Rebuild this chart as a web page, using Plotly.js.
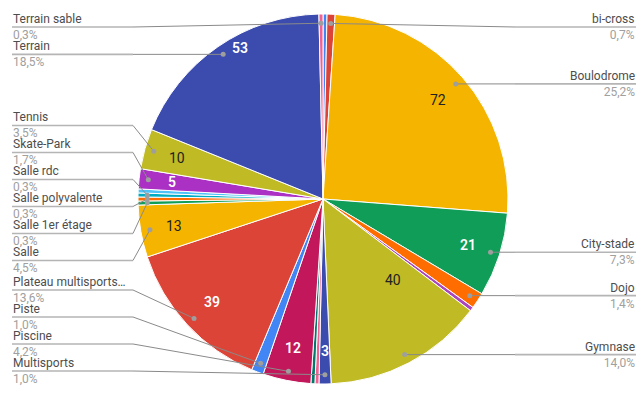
<!DOCTYPE html>
<html><head><meta charset="utf-8">
<script src="https://cdn.plot.ly/plotly-3.0.1.min.js"></script>
<style>body{margin:0;background:#fff}#chart{width:641px;height:399px}</style>
</head><body><div id="chart"></div>
<script>
// ---- data (clockwise from 12 o'clock) ----
const labels = ['(sans libellé 1)', 'bi-cross', 'Boulodrome', 'City-stade', 'Dojo', '(sans libellé 2)',
  'Gymnase', 'Multisports', '(sans libellé 3)', '(sans libellé 4)', 'Piscine', 'Piste',
  'Plateau multisports…', 'Salle', 'Salle 1er étage', 'Salle polyvalente', 'Salle rdc', '(sans libellé 5)',
  'Skate-Park', 'Tennis', 'Terrain', 'Terrain sable'];
const values = [1, 2, 72, 21, 4, 1, 40, 3, 1, 1, 12, 3, 39, 13, 1, 1, 1, 1, 5, 10, 53, 1];
const inLegend = [false, true, true, true, true, false, true, true, false, false, true, true,
  true, true, true, true, true, false, true, true, true, true];
const showValue = [false, false, true, true, false, false, true, true, false, false, true, false,
  true, true, false, false, false, false, true, true, true, false];
const colors = ['#4285F4', '#DB4437', '#F4B400', '#0F9D58', '#FF6D00', '#AB47BC',
  '#C0BB25', '#3B4BAE', '#F06292', '#00796B', '#C2185B', '#4285F4',
  '#DB4437', '#F4B400', '#0F9D58', '#FF6D00', '#00ACC1', '#4FC3F7',
  '#AB30C4', '#C0BB25', '#3B4BAE', '#F06292'];

// ---- layout tweaks for value-label placement (pixels, as the reference places them) ----
const valueLabelShift = { 'Terrain': [3, 26], 'Gymnase': [0, 53] };

// ---- geometry ----
const W = 641, H = 399;
const cx = 323, cy = 199, R = 185;
const px = x => x / W, py = y => 1 - y / H;
const total = values.reduce((a, b) => a + b, 0);

const fmtPct = v => (Math.round(v / total * 1000) / 10).toFixed(1).replace('.', ',') + '%';
function lum(hex) {
  const r = parseInt(hex.substr(1, 2), 16), g = parseInt(hex.substr(3, 2), 16), b = parseInt(hex.substr(5, 2), 16);
  return 0.299 * r + 0.587 * g + 0.114 * b;
}

const annotations = [], shapes = [];
let cum = 0;
const leftItems = [], rightItems = [];
values.forEach((v, i) => {
  const mid = (cum + v / 2) / total * 2 * Math.PI;
  cum += v;
  const s = Math.sin(mid), c = Math.cos(mid);
  if (showValue[i]) {
    const tr = 0.82 * R;
    const sh = valueLabelShift[labels[i]] || [0, 0];
    const dark = lum(colors[i]) > 150;
    annotations.push({
      x: px(cx + tr * s), y: py(cy - tr * c), xref: 'paper', yref: 'paper',
      xshift: sh[0], yshift: sh[1],
      text: String(v), showarrow: false, xanchor: 'center', yanchor: 'middle',
      font: { family: 'Roboto, Arial, sans-serif', size: 14, color: dark ? '#222222' : '#ffffff', weight: dark ? 400 : 600 }
    });
  }
  if (inLegend[i]) {
    const dr = 0.95 * R;
    const item = { i, dx: cx + dr * s, dy: cy - dr * c };
    item.y = item.dy;
    (s > 0.02 ? rightItems : leftItems).push(item);
  }
});

function resolve(items, minY, maxY, gap) {
  items.sort((a, b) => a.dy - b.dy);
  items.forEach(it => { it.y = Math.min(maxY, Math.max(minY, it.dy)); });
  for (let k = 0; k < 2000; k++) {
    for (let j = 1; j < items.length; j++) {
      const d = items[j].y - items[j - 1].y;
      if (d < gap) {
        const sh = (gap - d) / 2;
        items[j - 1].y -= sh; items[j].y += sh;
      }
    }
    items.forEach(it => { it.y = Math.min(maxY, Math.max(minY, it.y)); });
  }
}
resolve(leftItems, 27, H - 28, 27);
resolve(rightItems, 27, H - 28, 27);

function addLabel(it, side) {
  const i = it.i;
  const xText = side === 'left' ? 12 : 636;
  const xElbow = side === 'left' ? 133 : 515;
  shapes.push({ type: 'line', xref: 'paper', yref: 'paper', layer: 'above',
    x0: px(xText), y0: py(it.y), x1: px(xElbow), y1: py(it.y), line: { color: '#b5b5b5', width: 1.6 } });
  shapes.push({ type: 'line', xref: 'paper', yref: 'paper', layer: 'above',
    x0: px(xElbow), y0: py(it.y), x1: px(it.dx), y1: py(it.dy), line: { color: '#8a8a8a', width: 1 } });
  const rr = 2.5;
  shapes.push({ type: 'circle', xref: 'paper', yref: 'paper', layer: 'above',
    x0: px(it.dx - rr), x1: px(it.dx + rr), y0: py(it.dy + rr), y1: py(it.dy - rr),
    fillcolor: '#9e9e9e', line: { width: 0 } });
  const anchor = side === 'left' ? 'left' : 'right';
  annotations.push({ x: px(xText), y: py(it.y), xref: 'paper', yref: 'paper', showarrow: false,
    xanchor: anchor, yanchor: 'middle', align: anchor, borderpad: 0,
    text: labels[i] + '<br><span style="color:#a0a0a0">' + fmtPct(values[i]) + '</span>',
    font: { family: 'Roboto, Arial, sans-serif', size: 12, color: '#4d4d4d' } });
}
leftItems.forEach(it => addLabel(it, 'left'));
rightItems.forEach(it => addLabel(it, 'right'));

const trace = {
  type: 'pie', labels, values, sort: false, direction: 'clockwise', rotation: 0,
  marker: { colors, line: { color: '#ffffff', width: 1 } },
  textinfo: 'none', hoverinfo: 'label+value+percent',
  domain: { x: [px(cx - R), px(cx + R)], y: [py(cy + R), py(cy - R)] }
};

Plotly.newPlot('chart', [trace], {
  width: W, height: H, margin: { l: 0, r: 0, t: 0, b: 0 },
  showlegend: false, paper_bgcolor: '#ffffff',
  annotations, shapes
}, { displayModeBar: false, staticPlot: true });
</script>
</body></html>
